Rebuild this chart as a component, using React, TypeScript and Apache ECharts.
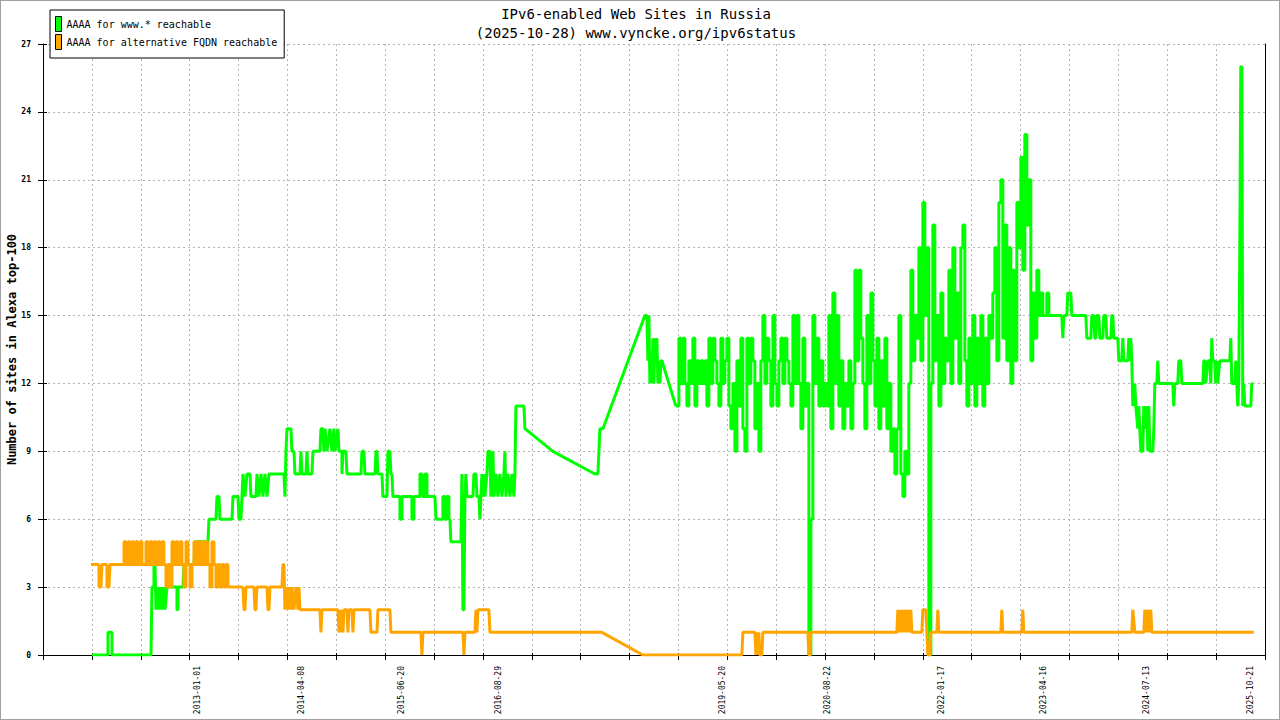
import React, { useEffect, useRef } from "react";
import * as echarts from "echarts";

const FONT = '"DejaVu Sans Mono", "Liberation Mono", monospace';

const titleLines = ["IPv6-enabled Web Sites in Russia", "(2025-10-28) www.vyncke.org/ipv6status"];
const seriesNames = ["AAAA for www.* reachable", "AAAA for alternative FQDN reachable"];
const seriesColors = ["#00ff00", "#ffa500"];
const yAxisName = "Number of sites in Alexa top-100";

// x values: days since the start of the plotted range
const tickDates = ["2013-01-01", "2014-04-08", "2015-06-20", "2016-08-29", "2019-05-20", "2020-08-22", "2022-01-17", "2023-04-16", "2024-07-13", "2025-10-21"];
const tickDays = [697.5, 1165.5, 1615.5, 2052, 3060, 3532.5, 4045.5, 4504.5, 4968, 5436];

const greenEarly: [number, number][] = [[220.5,0],[292.5,0],[292.5,1],[310.5,1],[310.5,0],[486,0],[490.5,3],[499.5,3],[499.5,4],[504,4],[508.5,2],[517.5,3],[522,2],[531,3],[535.5,2],[544.5,3],[549,2],[558,3],[603,3],[603,2],[607.5,2],[607.5,3],[630,3],[634.5,4],[679.5,4],[684,5],[742.5,5],[747,6],[778.5,6],[783,7],[792,7],[796.5,6],[850.5,6],[855,7],[877.5,7],[882,6],[891,6],[895.5,7],[900,8],[909,7],[918,8],[931.5,8],[936,7],[958.5,7],[963,8],[972,7],[981,8],[990,7],[999,8],[1008,7],[1017,8],[1084.5,8],[1089,7],[1093.5,9],[1098,10],[1116,10],[1120.5,9],[1129.5,9],[1134,8],[1156.5,8],[1161,9],[1165.5,8],[1183.5,8],[1188,9],[1192.5,8],[1210.5,8],[1215,9],[1246.5,9],[1251,10],[1260,10],[1264.5,9],[1269,10],[1278,9],[1291.5,10],[1300.5,9],[1309.5,10],[1314,9],[1327.5,10],[1332,9],[1345.5,9],[1345.5,8],[1350,9],[1363.5,9],[1368,8],[1431,8],[1435.5,9],[1444.5,9],[1449,8],[1494,8],[1498.5,9],[1503,9],[1507.5,8],[1525.5,8],[1530,7],[1548,7],[1552.5,9],[1561.5,9],[1566,8],[1570.5,8],[1575,7],[1606.5,7],[1606.5,6],[1615.5,6],[1615.5,7],[1660.5,7],[1660.5,6],[1669.5,6],[1669.5,7],[1696.5,7],[1696.5,8],[1705.5,8],[1710,7],[1719,7],[1719,8],[1728,8],[1728,7],[1764,7],[1768.5,6],[1800,6],[1800,7],[1809,7],[1809,6],[1818,6],[1818,7],[1827,7],[1827,6],[1831.5,6],[1836,5],[1881,5],[1885.5,8],[1890,2],[1894.5,2],[1899,7],[1903.5,8],[1908,7],[1935,7],[1939.5,8],[1948.5,8],[1953,7],[1962,7],[1966.5,6],[1971,7],[1975.5,8],[1980,7],[1984.5,8],[1989,7],[1998,8],[2002.5,9],[2011.5,9],[2016,7],[2020.5,8],[2025,9],[2029.5,7],[2038.5,8],[2047.5,7],[2056.5,8],[2065.5,7],[2074.5,8],[2079,9],[2083.5,7],[2092.5,8],[2101.5,7],[2110.5,8],[2119.5,7],[2124,8],[2128.5,11],[2164.5,11],[2169,10],[2295,9],[2484,8],[2497.5,8],[2502,9],[2506.5,10],[2520,10],[2709,15],[2718,15],[2722.5,13],[2727,15],[2731.5,12],[2736,13],[2740.5,12],[2745,14],[2749.5,12],[2754,14],[2758.5,13],[2763,14],[2767.5,12],[2772,13],[2776.5,12],[2781,13],[2785.5,13],[2848.5,11]];

// dense samples (one every 9 days)
const greenDenseStart = 2853;
const greenDenseStep = 9;
const greenDenseValues = [
  11,14,12,14,12,11,13,12,14,11,
  13,12,13,12,13,11,14,12,14,13,
  12,11,14,12,13,14,11,10,12,9,
  13,11,14,10,9,14,12,14,13,10,
  12,9,13,15,12,14,13,11,15,12,
  11,13,14,12,14,13,12,11,15,12,
  15,12,10,14,11,12,0,6,15,12,
  14,11,13,11,12,11,15,10,16,12,
  15,11,13,10,12,11,13,10,12,17,
  13,17,14,12,10,15,12,16,13,11,
  14,10,13,11,14,10,12,9,10,8,
  10,15,8,7,9,8,12,17,13,15,
  14,18,13,20,15,18,0,12,19,13,
  15,11,16,12,14,13,17,12,18,14,
  16,12,18,19,13,11,14,12,15,11,
  14,12,15,11,14,12,15,14,16,18,
  13,20,21,14,19,13,18,12,17,13,
  20,18,22,17,23,19,21,13,16,14,
  17,15,16,15,15,16,15
];

const greenLate: [number, number][] = [[4585.5,15],[4590,14],[4594.5,15],[4608,15],[4612.5,16],[4626,16],[4630.5,15],[4693.5,15],[4698,14],[4716,14],[4720.5,15],[4729.5,15],[4734,14],[4738.5,14],[4743,15],[4752,15],[4756.5,14],[4770,14],[4774.5,15],[4783.5,15],[4788,14],[4806,14],[4810.5,15],[4815,15],[4819.5,14],[4837.5,14],[4842,13],[4855.5,13],[4860,14],[4864.5,13],[4882.5,13],[4887,14],[4891.5,13],[4896,14],[4900.5,13],[4905,11],[4914,12],[4918.5,11],[4927.5,10],[4932,11],[4936.5,10],[4941,9],[4950,9],[4954.5,11],[4963.5,10],[4968,11],[4972.5,9],[4977,11],[4981.5,9],[4995,9],[4999.5,10],[5004,12],[5013,12],[5017.5,13],[5022,12],[5085,12],[5089.5,11],[5094,12],[5107.5,12],[5112,13],[5121,13],[5125.5,12],[5220,12],[5224.5,13],[5229,13],[5233.5,12],[5242.5,13],[5251.5,13],[5256,12],[5260.5,14],[5265,13],[5274,13],[5278.5,12],[5283,13],[5287.5,12],[5296.5,13],[5341.5,13],[5346,14],[5350.5,12],[5364,12],[5368.5,13],[5373,12],[5377.5,11],[5382,12],[5386.5,18],[5391,26],[5395.5,26],[5400,11],[5404.5,12],[5409,11],[5436,11],[5440.5,12],[5445,12]];

const orangeEarly: [number, number][] = [[216,4],[252,4],[252,3],[261,3],[265.5,4],[288,4],[288,3],[297,3],[301.5,4],[360,4]];

const orangeDenseStart = 364.5;
const orangeDenseStep = 9;
const orangeDenseValues = [
  5,4,5,4,5,4,5,4,5,4,
  4,5,4,5,4,5,4,5,4,5,
  4,3,4,3,5,4,5,4,5,4,
  3,5,4,3,4,5,4,5,4,5,
  4,5,4,3,5,4,3,4,3,4,
  3,4,3,3
];

const orangeLate: [number, number][] = [[900,3],[904.5,2],[909,2],[913.5,3],[949.5,3],[954,2],[958.5,2],[963,3],[1008,3],[1012.5,2],[1017,2],[1021.5,3],[1075.5,3],[1080,4],[1084.5,4],[1089,2],[1093.5,3],[1098,2],[1102.5,3],[1107,2],[1111.5,3],[1116,2],[1120.5,3],[1129.5,2],[1138.5,3],[1147.5,2],[1152,3],[1156.5,2],[1246.5,2],[1251,1],[1255.5,2],[1327.5,2],[1332,1],[1336.5,2],[1341,1],[1345.5,2],[1350,1],[1354.5,2],[1368,2],[1372.5,1],[1377,2],[1390.5,2],[1395,1],[1399.5,2],[1471.5,2],[1476,1],[1503,1],[1507.5,2],[1561.5,2],[1566,1],[1701,1],[1705.5,0],[1710,1],[1890,1],[1894.5,0],[1899,1],[1944,1],[1948.5,2],[1953,1],[1957.5,2],[2007,2],[2011.5,1],[2515.5,1],[2700,0],[3145.5,0],[3150,1],[3204,1],[3208.5,0],[3213,1],[3217.5,0],[3222,1],[3226.5,0],[3235.5,0],[3240,1],[3442.5,1],[3447,0],[3451.5,0],[3456,1],[3843,1],[3847.5,2],[3852,1],[3856.5,2],[3861,1],[3865.5,2],[3870,1],[3874.5,2],[3879,1],[3883.5,2],[3888,1],[3892.5,2],[3901.5,1],[3906,2],[3910.5,1],[3955.5,1],[3960,2],[3973.5,2],[3978,1],[3982.5,0],[3991.5,0],[3996,1],[4023,1],[4027.5,2],[4032,1],[4311,1],[4315.5,2],[4320,1],[4405.5,1],[4410,2],[4414.5,1],[4900.5,1],[4905,2],[4914,1],[4954.5,1],[4959,2],[4968,1],[4972.5,2],[4981.5,1],[4986,2],[4990.5,1],[5449.5,1]];

const X_MIN = 0;
const X_MAX = 5500;
const X_TICK = 220;
const Y_MIN = 0;
const Y_MAX = 27;
const Y_TICK = 3;

function dense(start: number, step: number, values: number[]): [number, number][] {
  return values.map((v, i) => [start + i * step, v] as [number, number]);
}

// dense parts are drawn as steps (vertical jumps between samples), joined to their neighbours
const greenDenseData: [number, number][] = [greenEarly[greenEarly.length - 1], ...dense(greenDenseStart, greenDenseStep, greenDenseValues), greenLate[0]];
const orangeDenseData: [number, number][] = [orangeEarly[orangeEarly.length - 1], ...dense(orangeDenseStart, orangeDenseStep, orangeDenseValues), orangeLate[0]];

export default function App() {
  const ref = useRef<HTMLDivElement>(null);
  useEffect(() => {
    document.body.style.margin = "0";
    if (!ref.current) return;
    const chart = echarts.init(ref.current, undefined, { renderer: "svg" });
    const gridColor = "#b4b4b4";
    const mk = (idx: number, data: [number, number][], step: any) => ({
      type: "line", name: seriesNames[idx], data, xAxisIndex: 0, yAxisIndex: 0,
      showSymbol: false, symbol: "none", silent: true, step,
      lineStyle: { color: seriesColors[idx], width: 3, join: "bevel", cap: "butt" },
      itemStyle: { color: seriesColors[idx] },
      z: 2 + idx,
    });
    const option: any = {
      animation: false,
      backgroundColor: "#ffffff",
      graphic: [
        { type: "text", x: 636, y: 14, style: { text: titleLines[0], font: `14px ${FONT}`, fill: "#000", textAlign: "center", textVerticalAlign: "middle" } },
        { type: "text", x: 636, y: 33, style: { text: titleLines[1], font: `14px ${FONT}`, fill: "#000", textAlign: "center", textVerticalAlign: "middle" } },
      ],
      legend: {
        left: 50,
        top: 10,
        orient: "vertical",
        padding: [6, 7, 8, 5],
        itemGap: 2,
        itemWidth: 6,
        itemHeight: 15,
        borderColor: "#000",
        borderWidth: 1,
        backgroundColor: "#fff",
        selectedMode: false,
        textStyle: { fontFamily: FONT, fontSize: 10, color: "#000" },
        data: seriesNames.map((n, i) => ({ name: n, icon: "rect", itemStyle: { color: seriesColors[i], borderColor: "#000", borderWidth: 1 } })),
      },
      grid: { left: 43, right: 15, top: 44, bottom: 65, containLabel: false, outerBoundsMode: "none" },
      xAxis: [
        {
          type: "value", min: X_MIN, max: X_MAX, interval: X_TICK,
          axisLine: { show: true, lineStyle: { color: "#000", width: 1 } },
          axisTick: { show: true, length: 5, lineStyle: { color: "#000" } },
          axisLabel: {
            show: true, customValues: tickDays, rotate: 90, margin: 11,
            fontSize: 8, fontFamily: FONT, color: "#000",
            formatter: (v: number) => {
              let best = -1, bd = 1e9;
              tickDays.forEach((d, i) => { if (Math.abs(d - v) < bd) { bd = Math.abs(d - v); best = i; } });
              return bd < 1 ? tickDates[best] : "";
            },
          },
          splitLine: { show: true, lineStyle: { color: gridColor, type: [2, 3], width: 1 } },
        },
        {
          type: "value", min: X_MIN, max: X_MAX, interval: X_TICK, position: "bottom",
          axisLine: { show: false },
          axisTick: { show: true, inside: true, length: 2, lineStyle: { color: "#000" } },
          axisLabel: { show: false },
          splitLine: { show: false },
        },
      ],
      yAxis: [
        {
          type: "value", min: Y_MIN, max: Y_MAX, interval: Y_TICK,
          name: yAxisName, nameLocation: "middle", nameGap: 25, nameMoveOverlap: false,
          nameTextStyle: { fontFamily: FONT, fontSize: 12, fontWeight: "bold", color: "#000" },
          axisLine: { show: true, lineStyle: { color: "#000", width: 1 } },
          axisTick: { show: true, length: 5, lineStyle: { color: "#000" } },
          axisLabel: { fontSize: 8, fontWeight: "bold", fontFamily: FONT, color: "#000", margin: 12 },
          splitLine: { show: true, lineStyle: { color: gridColor, type: [2, 3], width: 1 } },
        },
        {
          type: "value", min: Y_MIN, max: Y_MAX, interval: Y_TICK, position: "left",
          axisLine: { show: false },
          axisTick: { show: true, inside: true, length: 4, lineStyle: { color: "#000" } },
          axisLabel: { show: false },
          splitLine: { show: false },
        },
        {
          type: "value", min: Y_MIN, max: Y_MAX, interval: Y_TICK, position: "right",
          axisLine: { show: true, lineStyle: { color: "#000", width: 1 } },
          axisTick: { show: false },
          axisLabel: { show: false },
          splitLine: { show: false },
        },
      ],
      series: [
        mk(0, greenEarly, false),
        mk(0, greenDenseData, "end"),
        mk(0, greenLate, false),
        mk(1, orangeEarly, false),
        mk(1, orangeDenseData, "end"),
        mk(1, orangeLate, false),
      ],
    };
    chart.setOption(option);
    return () => chart.dispose();
  }, []);
  return (
    <div style={{ position: "relative", width: 1280, height: 720 }}>
      <div ref={ref} style={{ position: "absolute", left: 0, top: 0, width: 1280, height: 720 }} />
      <div style={{ position: "absolute", left: 0, top: 0, width: 1280, height: 720, boxSizing: "border-box", border: "1px solid #a0a0a0", pointerEvents: "none" }} />
    </div>
  );
}
